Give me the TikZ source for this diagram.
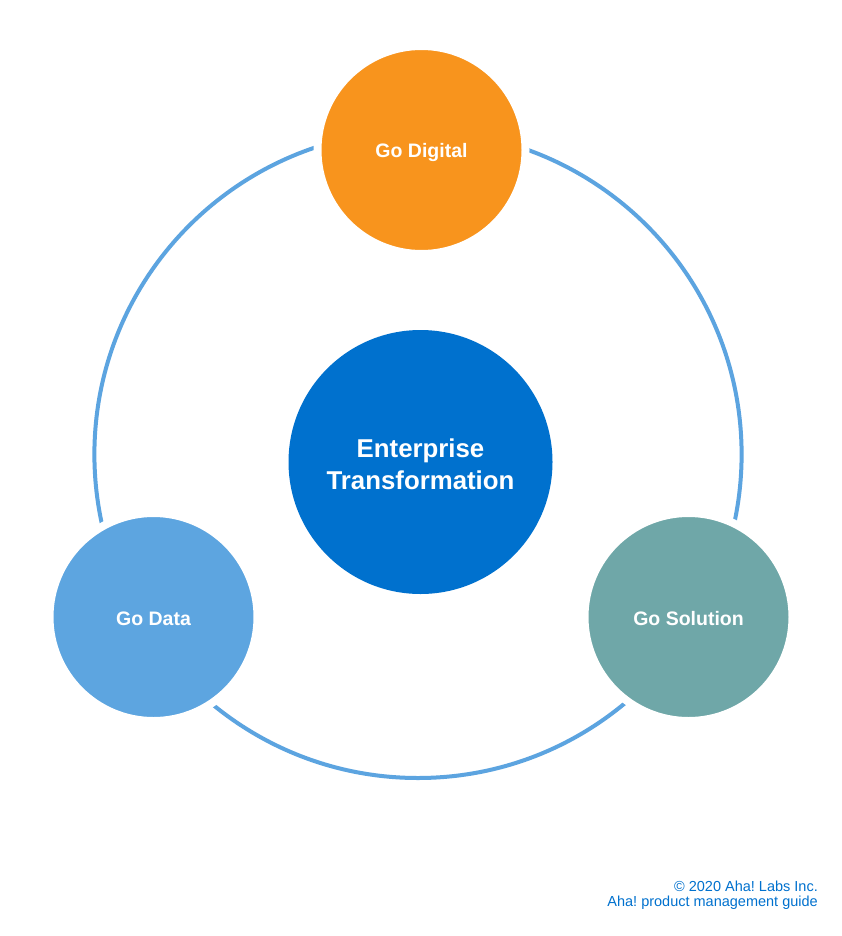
\documentclass[tikz,border=0pt]{standalone}
\usepackage{fontspec}
\setmainfont{Liberation Sans}
\newcommand{\lowerby}[2]{\raisebox{-#1}[\height][\depth]{#2}}
\begin{document}
\frenchspacing
\begin{tikzpicture}[x=1pt,y=-1pt,
  ringline/.style={draw=ringblue,line width=4pt},
  satellite/.style={circle,minimum size=208pt,inner sep=0pt,draw=white,line width=8pt,
    text=white,font=\fontsize{19.5}{23}\selectfont\bfseries},
  hub/.style={circle,minimum size=264pt,inner sep=0pt,fill=hubblue,
    text=white,align=center,font=\fontsize{25.8}{32}\selectfont\bfseries},
  credit/.style={anchor=east,inner sep=0pt,text=hubblue,font=\fontsize{14.5}{17}\selectfont}]
\definecolor{ringblue}{HTML}{5CA4E0}
\definecolor{hubblue}{HTML}{0071CE}
\definecolor{digital}{HTML}{F8941D}
\definecolor{dataclr}{HTML}{5DA5E0}
\definecolor{solution}{HTML}{6FA7A8}
\fill[white] (0,0) rectangle (842,936);
\useasboundingbox (0,0) rectangle (842,936);
\coordinate (rc) at (418,454.4);
\draw[ringline] (rc) circle[radius=323.6pt];
\node[hub] (ent) at (420.5,462) {\lowerby{5pt}{\begin{tabular}{@{}c@{}}Enterprise\\Transformation\end{tabular}}};
\node[satellite,fill=digital] (dig) at (421.5,150) {\lowerby{3pt}{Go Digital}};
\node[satellite,fill=dataclr] (dat) at (153.5,617) {\lowerby{2pt}{Go Data}};
\node[satellite,fill=solution] (sol) at (688.5,617) {\lowerby{2pt}{Go Solution}};
\node[credit] (c1) at (818,886) {© 2020 Aha! Labs Inc.};
\node[credit] (c2) at (818,903) {Aha! product management guide};
\end{tikzpicture}
\end{document}
